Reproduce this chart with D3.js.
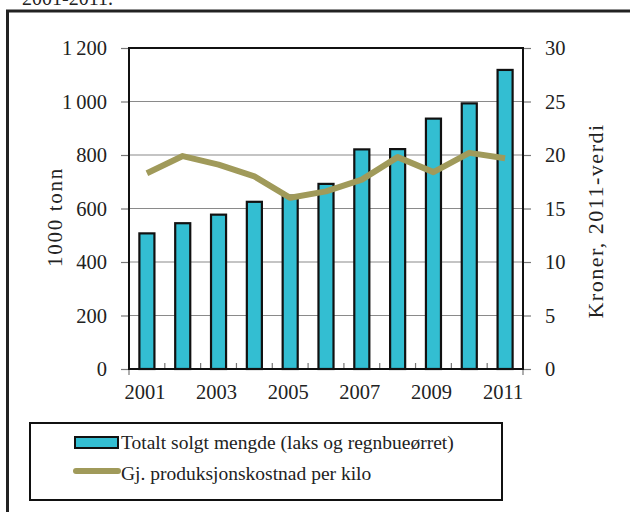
<!DOCTYPE html>
<html>
<head>
<meta charset="utf-8">
<script src="https://cdnjs.cloudflare.com/ajax/libs/d3/7.8.5/d3.min.js"></script>
<style>
  body { margin: 0; background: #fff; }
  svg text { font-family: "Liberation Serif", "DejaVu Serif", serif; fill: #222; }
</style>
</head>
<body>
<div id="chart"></div>
<script>
// Data
const years = ["2001","2002","2003","2004","2005","2006","2007","2008","2009","2010","2011"];
const soldAmount = [507, 545, 577, 625, 648, 692, 821, 822, 936, 993, 1118]; // 1000 tonn
const prodCost = [18.3, 19.9, 19.1, 18.0, 16.0, 16.6, 17.7, 19.8, 18.4, 20.2, 19.7]; // kroner per kilo
const leftTicks = [0, 200, 400, 600, 800, 1000, 1200];
const rightTicks = [0, 5, 10, 15, 20, 25, 30];
const xLabels = ["2001","2003","2005","2007","2009","2011"];
const legendLabels = ["Totalt solgt mengde (laks og regnbueørret)", "Gj. produksjonskostnad per kilo"];

const W = 630, H = 512;
const barColor = "#33bed2";
const lineColor = "#a09a5a";

const svg = d3.select("#chart").append("svg")
    .attr("width", W)
    .attr("height", H);

// caption, cut at top of the page like in the source
svg.append("text")
    .attr("x", 22).attr("y", 5)
    .attr("font-size", 20)
    .text("2001-2011.");

// outer frame (only top & left visible)
svg.append("path")
    .attr("d", "M7.5,512 V11 H630")
    .attr("fill", "none")
    .attr("stroke", "#222")
    .attr("stroke-width", 3);

// plot area
const pLeft = 129, pRight = 523, pTop = 48, pBottom = 369;

const x = d3.scaleBand()
    .domain(years)
    .range([pLeft, pRight])
    .paddingInner(0.58)
    .paddingOuter(0.29);

const yL = d3.scaleLinear().domain([0, 1200]).range([pBottom, pTop]);
const yR = d3.scaleLinear().domain([0, 30]).range([pBottom, pTop]);

// gridlines
svg.append("g")
    .selectAll("line")
    .data(leftTicks.filter(d => d > 0 && d < 1200))
    .join("line")
        .attr("x1", pLeft).attr("x2", pRight)
        .attr("y1", d => yL(d)).attr("y2", d => yL(d))
        .attr("stroke", "#8a8a8a")
        .attr("stroke-width", 1.2);

// left axis
const axL = svg.append("g")
    .attr("transform", `translate(${pLeft},0)`)
    .call(d3.axisLeft(yL).tickValues(leftTicks).tickSize(8).tickPadding(14)
        .tickFormat(d => d3.format(",")(d).replace(",", "\u2009")));
axL.select(".domain").remove();
axL.selectAll(".tick line").attr("stroke", "#777").attr("stroke-width", 1.2);
axL.selectAll(".tick text").attr("font-size", 20.5).attr("fill", "#222");

// right axis
const axR = svg.append("g")
    .attr("transform", `translate(${pRight},0)`)
    .call(d3.axisRight(yR).tickValues(rightTicks).tickSize(8).tickPadding(14));
axR.select(".domain").remove();
axR.selectAll(".tick line").attr("stroke", "#777").attr("stroke-width", 1.2);
axR.selectAll(".tick text").attr("font-size", 20.5).attr("fill", "#222");

// x ticks at category boundaries
const step = x.step();
const boundaries = d3.range(years.length + 1).map(i => pLeft + i * step);
svg.append("g")
    .selectAll("line")
    .data(boundaries)
    .join("line")
        .attr("x1", d => d).attr("x2", d => d)
        .attr("y1", (d, i) => (i === 0 || i === years.length) ? pBottom + 6 : pBottom - 6)
        .attr("y2", pBottom)
        .attr("stroke", "#777")
        .attr("stroke-width", 1.2);

// bars
svg.append("g")
    .selectAll("rect")
    .data(soldAmount)
    .join("rect")
        .attr("x", (d, i) => x(years[i]))
        .attr("y", d => yL(d))
        .attr("width", x.bandwidth())
        .attr("height", d => pBottom - yL(d))
        .attr("fill", barColor)
        .attr("stroke", "#111")
        .attr("stroke-width", 2.2);

// plot frame
svg.append("rect")
    .attr("x", pLeft).attr("y", pTop)
    .attr("width", pRight - pLeft).attr("height", pBottom - pTop)
    .attr("fill", "none")
    .attr("stroke", "#111")
    .attr("stroke-width", 2);

// line
const line = d3.line()
    .x((d, i) => x(years[i]) + x.bandwidth() / 2)
    .y(d => yR(d));

svg.append("path")
    .datum(prodCost)
    .attr("d", line)
    .attr("fill", "none")
    .attr("stroke", lineColor)
    .attr("stroke-width", 6)
    .attr("stroke-linejoin", "round");

// x labels
svg.append("g")
    .selectAll("text")
    .data(xLabels)
    .join("text")
        .attr("x", d => x(d) + x.bandwidth() / 2 - 2)
        .attr("y", 399)
        .attr("text-anchor", "middle")
        .attr("font-size", 20.5)
        .text(d => d);

// axis titles (Palatino in the source is wider, so some letter spacing)
svg.append("text")
    .attr("transform", "translate(62,217) rotate(-90)")
    .attr("text-anchor", "middle")
    .attr("font-size", 21)
    .attr("letter-spacing", 1.7)
    .text("1000 tonn");

svg.append("text")
    .attr("transform", "translate(603,221) rotate(-90)")
    .attr("text-anchor", "middle")
    .attr("font-size", 22)
    .attr("letter-spacing", 1.5)
    .text("Kroner, 2011-verdi");

// legend
const legend = svg.append("g");
legend.append("rect")
    .attr("x", 30).attr("y", 423)
    .attr("width", 472).attr("height", 77)
    .attr("fill", "#fff")
    .attr("stroke", "#111")
    .attr("stroke-width", 2);

legend.append("rect")
    .attr("x", 75).attr("y", 437)
    .attr("width", 43).attr("height", 11)
    .attr("fill", barColor)
    .attr("stroke", "#111")
    .attr("stroke-width", 2);

legend.append("line")
    .attr("x1", 76).attr("x2", 118)
    .attr("y1", 471).attr("y2", 471)
    .attr("stroke", lineColor)
    .attr("stroke-width", 6)
    .attr("stroke-linecap", "round");

legend.selectAll(".lt")
    .data(legendLabels)
    .join("text")
        .attr("class", "lt")
        .attr("x", 121)
        .attr("y", (d, i) => 449 + i * 31)
        .attr("font-size", 19.5)
        .text(d => d);
</script>
</body>
</html>
